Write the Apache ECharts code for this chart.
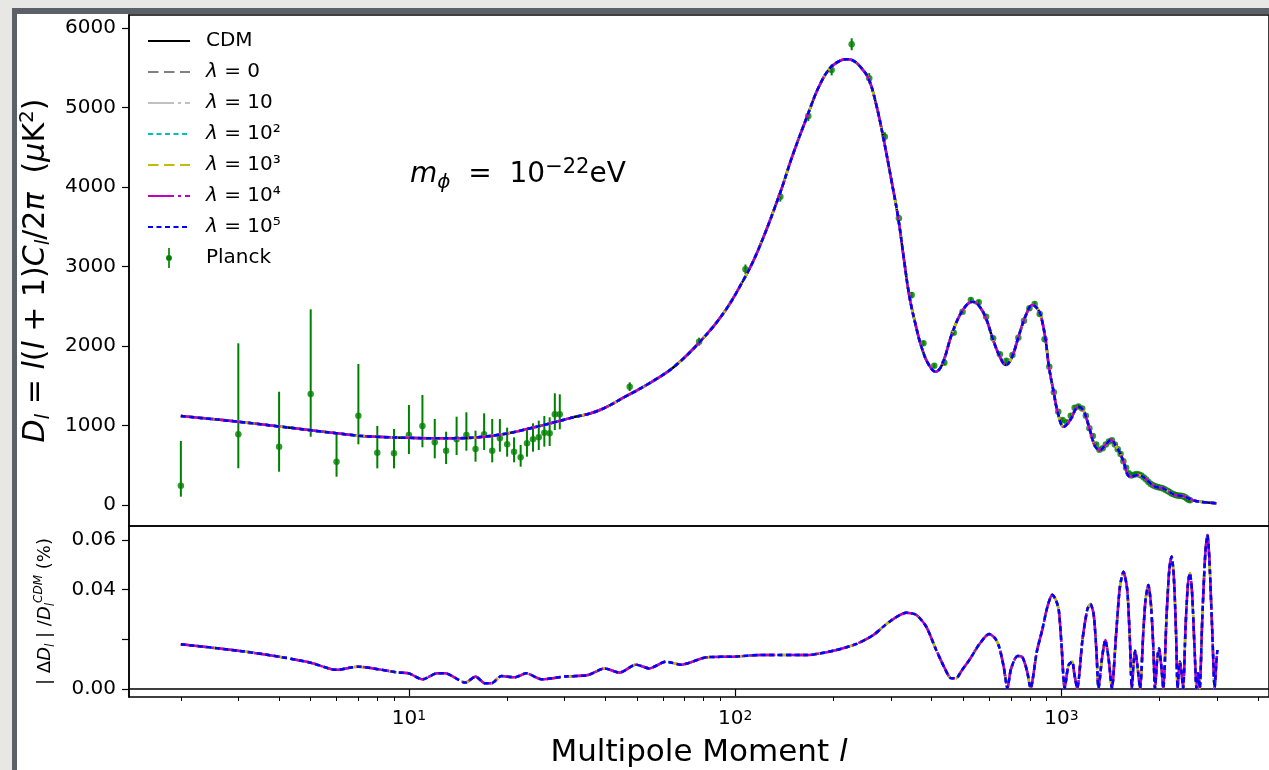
<!DOCTYPE html>
<html>
<head>
<meta charset="utf-8">
<script src="https://cdn.jsdelivr.net/npm/echarts@6.0.0/dist/echarts.min.js"></script>
<style>
  html, body { margin: 0; padding: 0; }
  body { width: 1269px; height: 770px; background: #e7e7e5; position: relative; overflow: hidden; }
  #edge { position: absolute; left: 12px; top: 8px; right: 0; bottom: 0; background: #5c6168; }
  #paper { position: absolute; left: 17px; top: 14px; right: 0; bottom: 0; background: #fff; }
  #chart { position: absolute; left: 0; top: 0; width: 1269px; height: 770px; }
</style>
</head>
<body>
<div id="edge"></div>
<div id="paper"></div>
<div id="chart"></div>
<script>
// theory curve D_l (same for CDM and every lambda at this scale)
const curveL = [2, 3, 4, 5, 6, 7, 8, 10, 12, 14, 17, 20, 23, 27, 31, 38, 46, 55, 65, 78,
  92, 106, 117, 136, 150, 166, 180, 195, 210, 220, 230, 242, 256, 270, 284, 300, 316, 330, 342, 358,
  372, 390, 411, 430, 464, 500, 534, 560, 587, 615, 645, 675, 705, 741, 780, 814, 840, 863, 894, 915,
  948, 970, 1016, 1060, 1129, 1160, 1184, 1226, 1270, 1315, 1360, 1420, 1470, 1513, 1549, 1623, 1680, 1721, 1804, 1870,
  1935, 2000, 2051, 2140, 2227, 2300, 2360, 2450, 2562, 2750, 2983];
const curveD = [1118, 1048, 988, 940, 902, 872, 857, 845, 839, 840, 860, 900, 955, 1025, 1090, 1186, 1362, 1540, 1740, 2054,
  2411, 2830, 3186, 3878, 4400, 4884, 5250, 5493, 5590, 5606, 5590, 5510, 5367, 5050, 4633, 4120, 3606, 3050, 2620, 2250,
  1991, 1780, 1677, 1760, 2180, 2460, 2557, 2500, 2348, 2097, 1880, 1761, 1860, 2138, 2400, 2516, 2480, 2390, 2075, 1740,
  1405, 1195, 985, 1060, 1237, 1205, 1132, 922, 733, 692, 750, 818, 740, 650, 545, 356, 370, 377, 336, 275,
  230, 218, 210, 165, 126, 118, 113, 85, 54, 35, 21];

// Planck low-l points (asymmetric error bars)
const lowL = [2, 3, 4, 5, 6, 7, 8, 9, 10, 11, 12, 13, 14, 15, 16, 17, 18, 19, 20, 21, 22, 23, 24, 25, 26, 27, 28, 29];
const lowD = [243, 889, 733, 1396, 545, 1124, 658, 650, 880, 994, 789, 683, 826, 880, 704, 889, 683, 839, 763, 671, 600, 776, 826, 851, 910, 902, 1141, 1141];
const lowHi = [805, 2034, 1425, 2461, 902, 1774, 994, 956, 1258, 1384, 1082, 922, 1111, 1166, 935, 1153, 1082, 1082, 973, 851, 755, 965, 1027, 1061, 1120, 1103, 1405, 1392];
const lowLo = [105, 462, 419, 859, 356, 763, 461, 461, 641, 726, 587, 516, 629, 683, 545, 692, 537, 671, 608, 537, 482, 608, 671, 692, 734, 742, 943, 952];

// Planck binned points
const binL = [47.5, 77.5, 107.5, 137.5, 167.5, 197.5, 227.5, 257.5, 287.5, 317.5, 347.5, 377.5, 407.5, 437.5, 467.5, 497.5,
  527.5, 557.5, 587.5, 617.5, 647.5, 677.5, 707.5, 737.5, 767.5, 797.5, 827.5, 857.5, 887.5, 917.5, 947.5, 977.5,
  1007.5, 1037.5, 1067.5, 1097.5, 1127.5, 1157.5, 1187.5, 1217.5, 1247.5, 1277.5, 1307.5, 1337.5, 1367.5, 1397.5, 1427.5, 1457.5,
  1487.5, 1517.5, 1547.5, 1577.5, 1607.5, 1637.5, 1667.5, 1697.5, 1727.5, 1757.5, 1787.5, 1817.5, 1847.5, 1877.5, 1907.5, 1937.5,
  1967.5, 1997.5, 2027.5, 2057.5, 2087.5, 2117.5, 2147.5, 2177.5, 2207.5, 2237.5, 2267.5, 2297.5, 2327.5, 2357.5, 2387.5, 2417.5,
  2447.5, 2477.5];
const binD = [1488, 2054, 2965, 3878, 4893, 5472, 5795, 5367, 4633, 3606, 2640, 2034, 1752, 1790, 2168, 2431,
  2579, 2550, 2369, 2097, 1896, 1815, 1887, 2105, 2318, 2474, 2528, 2402, 2084, 1740, 1417, 1174,
  1069, 1040, 1123, 1224, 1240, 1215, 1123, 965, 868, 760, 695, 715, 760, 800, 815, 760,
  700, 640, 550, 470, 400, 370, 380, 390, 385, 370, 345, 320, 290, 265, 250, 235,
  225, 220, 215, 205, 190, 175, 160, 145, 135, 125, 120, 118, 115, 110, 100, 85,
  70, 60];
const binErr = [55, 50, 60, 62, 65, 68, 75, 65, 55, 45, 40, 32, 30, 30, 30, 30,
  30, 30, 30, 30, 30, 30, 30, 30, 30, 30, 30, 30, 30, 30, 30, 30,
  28, 28, 28, 28, 28, 28, 28, 28, 28, 26, 26, 26, 26, 26, 26, 26,
  26, 26, 26, 26, 26, 26, 26, 26, 26, 26, 26, 26, 26, 26, 26, 26,
  26, 26, 26, 26, 26, 26, 26, 26, 26, 26, 28, 28, 28, 28, 28, 30,
  30, 30];

// lower panel |dD|/D_CDM (%)
const resL = [2, 3, 4, 5, 6, 7, 8.1, 9.3, 10, 11, 12.2, 12.9, 14.9, 16, 17.1, 17.9, 19.2, 21.1, 22.9, 25.5,
  30, 35.4, 39.8, 44.2, 49.7, 54.5, 61.3, 68.2, 82, 99, 119, 166, 200, 235, 265, 297, 334, 359, 385, 413,
  440, 459, 475, 495, 522, 560, 600, 625, 644, 665, 683, 700, 733, 759, 785, 804, 840, 873, 905, 937,
  960, 981, 1000, 1023, 1050, 1078, 1095, 1117, 1160, 1200, 1226, 1255, 1280, 1299, 1330, 1362, 1395, 1427, 1470, 1510,
  1549, 1590, 1620, 1643, 1665, 1681, 1710, 1741, 1780, 1810, 1846, 1880, 1910, 1935, 1965, 1990, 2020, 2051, 2100, 2140,
  2175, 2210, 2245, 2269, 2290, 2306, 2335, 2360, 2400, 2440, 2474, 2510, 2560, 2593, 2608, 2622, 2638, 2653, 2700, 2760,
  2801, 2840, 2900, 2948, 2980, 3004];
const resV = [0.0180, 0.0154, 0.0130, 0.0106, 0.0077, 0.0090, 0.0079, 0.0066, 0.0063, 0.0039,
  0.0063, 0.0063, 0.0026, 0.0050, 0.0023, 0.0023, 0.0052, 0.0047, 0.0063, 0.0039,
  0.0050, 0.0056, 0.0083, 0.0066, 0.0098, 0.0083, 0.0110, 0.0098, 0.0128, 0.0130,
  0.0137, 0.0137, 0.0154, 0.0181, 0.0217, 0.0271, 0.0307, 0.0298, 0.0251, 0.0157,
  0.0080, 0.0043, 0.0043, 0.0075, 0.0117, 0.0180, 0.0221, 0.0205, 0.0170, 0.0090,
  0.0003, 0.0080, 0.0133, 0.0128, 0.0070, 0.0003, 0.0150, 0.0238, 0.0330, 0.0379,
  0.0360, 0.0318, 0.0180, 0.0003, 0.0095, 0.0110, 0.0060, 0.0003, 0.0200, 0.0320,
  0.0342, 0.0300, 0.0150, 0.0003, 0.0120, 0.0197, 0.0120, 0.0003, 0.0220, 0.0410,
  0.0472, 0.0400, 0.0200, 0.0003, 0.0110, 0.0154, 0.0090, 0.0003, 0.0220, 0.0360,
  0.0419, 0.0340, 0.0180, 0.0003, 0.0120, 0.0164, 0.0100, 0.0003, 0.0300, 0.0480,
  0.0533, 0.0450, 0.0220, 0.0003, 0.0080, 0.0110, 0.0060, 0.0003, 0.0250, 0.0420,
  0.0466, 0.0400, 0.0150, 0.0003, 0.0040, 0.0063, 0.0040, 0.0003, 0.0280, 0.0550,
  0.0620, 0.0520, 0.0220, 0.0003, 0.0100, 0.0157];

const xMajorTicks = [10, 100, 1000];
const xMinorTicks = [2, 3, 4, 5, 6, 7, 8, 9, 20, 30, 40, 50, 60, 70, 80, 90,
  200, 300, 400, 500, 600, 700, 800, 900, 2000, 3000, 4000];
const yTopTicks = [0, 1000, 2000, 3000, 4000, 5000, 6000];
const yBotTicks = [0, 0.02, 0.04, 0.06];
const yBotLabels = [0, 0.04, 0.06];
const lineNames = ['CDM', 'λ=0', 'λ=10', 'λ=10^2', 'λ=10^3', 'λ=10^4', 'λ=10^5'];

const X_MIN = 1.387, X_MAX = 4325;
const FONT = 'DejaVu Sans';
const SUP = { '1': '¹', '2': '²', '3': '³', '4': '⁴', '5': '⁵' };

const lineStyles = {
  'CDM':    { color: '#000000', type: 'solid' },
  'λ=0':    { color: '#808080', type: [10.5, 5.5] },
  'λ=10':   { color: '#c0c0c0', type: [26, 4, 3, 4] },
  'λ=10^2': { color: '#00bfbf', type: [5, 3.5] },
  'λ=10^3': { color: '#bfbf00', type: [10.5, 5.5] },
  'λ=10^4': { color: '#bf00bf', type: [26, 4, 3, 4] },
  'λ=10^5': { color: '#0000ff', type: [5, 3.5] }
};

const supRich = {
  t: { fontSize: 20, fontFamily: FONT, lineHeight: 20 },
  it: { fontSize: 20, fontFamily: FONT, fontStyle: 'italic', lineHeight: 20 },
  s: { fontSize: 20, fontFamily: FONT, lineHeight: 20 },
  sup: { fontSize: 14, fontFamily: FONT, lineHeight: 12, verticalAlign: 'top' },
  g: { width: 11 }
};

function legendText(name) {
  if (name === 'CDM' || name === 'Planck') return '{g|}{t|' + name + '}';
  const m = name.match(/^λ=10\^(\d)$/);
  if (m) return '{g|}{it|λ}{t| = 10}{s|' + SUP[m[1]] + '}';
  return '{g|}{it|λ}{t| = ' + name.slice(2) + '}';
}

function errorBarSeries(ls, lo, hi) {
  return {
    type: 'custom', name: 'Planck', xAxisIndex: 0, yAxisIndex: 0, z: 1, silent: true,
    data: ls.map((l, i) => [l, lo[i], hi[i]]),
    encode: { x: 0, y: [1, 2] },
    renderItem: function (params, api) {
      const a = api.coord([api.value(0), api.value(1)]);
      const b = api.coord([api.value(0), api.value(2)]);
      return {
        type: 'line',
        shape: { x1: a[0], y1: a[1], x2: b[0], y2: b[1] },
        style: { stroke: '#008000', lineWidth: 2 }
      };
    }
  };
}

const series = [];
series.push(errorBarSeries(lowL, lowLo, lowHi));
series.push(errorBarSeries(binL, binD.map((d, i) => d - binErr[i]), binD.map((d, i) => d + binErr[i])));
series.push({
  type: 'scatter', name: 'Planck', xAxisIndex: 0, yAxisIndex: 0, z: 1, symbolSize: 6.5,
  itemStyle: { color: '#008000' },
  data: lowL.map((l, i) => [l, lowD[i]]).concat(binL.map((l, i) => [l, binD[i]]))
});
lineNames.forEach(name => {
  series.push({
    type: 'line', name: name, xAxisIndex: 0, yAxisIndex: 0, z: 2,
    symbol: 'none', smooth: 0.4,
    lineStyle: { color: lineStyles[name].color, type: lineStyles[name].type, width: 2.5 },
    itemStyle: { color: lineStyles[name].color },
    data: curveL.map((l, i) => [l, curveD[i]])
  });
});
lineNames.slice(1).forEach(name => {
  series.push({
    type: 'line', name: name, xAxisIndex: 1, yAxisIndex: 1, z: 2,
    symbol: 'none', smooth: 0.25,
    lineStyle: { color: lineStyles[name].color, type: lineStyles[name].type, width: 2.5 },
    itemStyle: { color: lineStyles[name].color },
    data: resL.map((l, i) => [l, resV[i]])
  });
});

const tickLine = { color: '#000', width: 1.2 };

const option = {
  animation: false,
  backgroundColor: 'transparent',
  textStyle: { fontFamily: FONT },
  grid: [
    { left: 129, top: 15, width: 1146, height: 511, show: true, borderColor: '#000', borderWidth: 1.5, backgroundColor: 'transparent' },
    { left: 129, top: 526, width: 1146, height: 171, show: true, borderColor: '#000', borderWidth: 1.5, backgroundColor: 'transparent' }
  ],
  xAxis: [
    { type: 'log', gridIndex: 0, min: X_MIN, max: X_MAX, position: 'bottom',
      axisLine: { show: false }, axisTick: { show: false }, axisLabel: { show: false }, splitLine: { show: false } },
    { type: 'log', gridIndex: 1, min: X_MIN, max: X_MAX, position: 'bottom',
      axisLine: { show: true, lineStyle: { color: '#000', width: 1.5 } },
      axisTick: { show: true, length: 7, lineStyle: tickLine, customValues: xMajorTicks },
      axisLabel: { show: true, margin: 12, color: '#000', customValues: xMajorTicks,
        formatter: v => '{t|10}{sup|' + Math.round(Math.log10(v)) + '}', rich: supRich },
      splitLine: { show: false },
      name: '{t|Multipole Moment }{it|l}', nameLocation: 'middle', nameGap: 38,
      nameTextStyle: { color: '#000', rich: {
        t: { fontSize: 31, fontFamily: FONT, lineHeight: 36 },
        it: { fontSize: 31, fontFamily: FONT, fontStyle: 'italic', lineHeight: 36 } } } },
    { type: 'log', gridIndex: 1, min: X_MIN, max: X_MAX, position: 'bottom',
      axisLine: { show: false },
      axisTick: { show: true, length: 4, lineStyle: { color: '#000', width: 1 }, customValues: xMinorTicks },
      axisLabel: { show: false }, splitLine: { show: false } }
  ],
  yAxis: [
    { type: 'value', gridIndex: 0, min: -264, max: 6163,
      axisLine: { show: true, lineStyle: { color: '#000', width: 1.5 } },
      axisTick: { show: true, length: 7, lineStyle: tickLine, customValues: yTopTicks },
      axisLabel: { color: '#000', fontSize: 20, fontFamily: FONT, margin: 13, customValues: yTopTicks,
        formatter: v => String(Math.round(v)) },
      splitLine: { show: false },
      name: '{it|D}{sub|l}{t| = }{it|l}{t|(}{it|l}{t| + 1)}{it|C}{sub|l}{t|/2}{it|π}{t|  (}{it|μ}{t|K}{sup|2}{t|)}',
      nameLocation: 'middle', nameRotate: 90, nameGap: 64,
      nameTextStyle: { color: '#000', rich: {
        t: { fontSize: 30, fontFamily: FONT, lineHeight: 36 },
        it: { fontSize: 30, fontFamily: FONT, fontStyle: 'italic', lineHeight: 36 },
        sub: { fontSize: 20, fontFamily: FONT, fontStyle: 'italic', lineHeight: 19, verticalAlign: 'bottom' },
        sup: { fontSize: 20, fontFamily: FONT, lineHeight: 19, verticalAlign: 'top' } } } },
    { type: 'value', gridIndex: 1, min: -0.00322, max: 0.0656,
      axisLine: { show: true, lineStyle: { color: '#000', width: 1.5 } },
      axisTick: { show: true, length: 7, lineStyle: tickLine, customValues: yBotTicks },
      axisLabel: { color: '#000', fontSize: 20, fontFamily: FONT, margin: 13, customValues: yBotLabels,
        formatter: v => v.toFixed(2) },
      splitLine: { show: false },
      name: '{t|| Δ}{it|D}{sub|l}{t| | /}{it|D}{sub|l}{sup|CDM}{t| (%)}',
      nameLocation: 'middle', nameRotate: 90, nameGap: 72,
      nameTextStyle: { color: '#000', rich: {
        t: { fontSize: 18, fontFamily: FONT, lineHeight: 24 },
        it: { fontSize: 18, fontFamily: FONT, fontStyle: 'italic', lineHeight: 24 },
        sub: { fontSize: 12, fontFamily: FONT, fontStyle: 'italic', lineHeight: 12, verticalAlign: 'bottom' },
        sup: { fontSize: 12, fontFamily: FONT, fontStyle: 'italic', lineHeight: 12, verticalAlign: 'top' } } } }
  ],
  legend: {
    orient: 'vertical', left: 147, top: 31, padding: 0,
    itemWidth: 42, itemHeight: 20, itemGap: 11,
    selectedMode: false,
    itemStyle: { opacity: 0 },
    data: lineNames.concat([{ name: 'Planck',
      icon: 'path://M9,0 L11,0 L11,24 L9,24 Z M6.5,12 A3.5,3.5 0 1,1 13.5,12 A3.5,3.5 0 1,1 6.5,12 Z',
      itemStyle: { color: '#008000', opacity: 1 } }]),
    formatter: legendText,
    textStyle: { color: '#000', fontSize: 20, fontFamily: FONT, lineHeight: 20, rich: supRich }
  },
  graphic: [{
    type: 'text', left: 410, top: 157, z: 10,
    style: {
      text: '{it|m}{sub|ϕ}{t|  =  10}{sup|−22}{t|eV}',
      fill: '#000',
      rich: {
        t: { fontSize: 28, fontFamily: FONT, lineHeight: 36 },
        it: { fontSize: 28, fontFamily: FONT, fontStyle: 'italic', lineHeight: 36 },
        sub: { fontSize: 20, fontFamily: FONT, fontStyle: 'italic', lineHeight: 21, verticalAlign: 'bottom' },
        sup: { fontSize: 21, fontFamily: FONT, lineHeight: 21, verticalAlign: 'top' }
      }
    }
  }],
  series: series
};

const chart = echarts.init(document.getElementById('chart'), null, { renderer: 'canvas' });
chart.setOption(option);
</script>
</body>
</html>
